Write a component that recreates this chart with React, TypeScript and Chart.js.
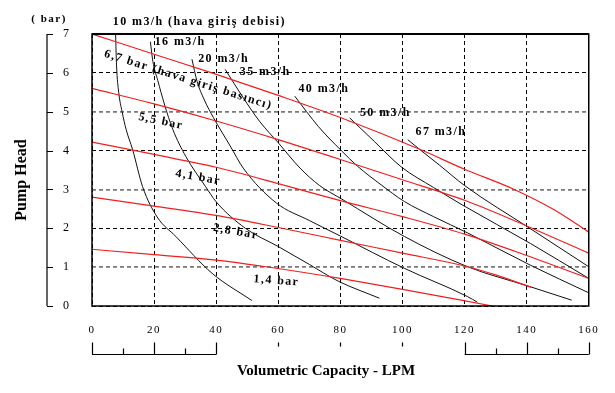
import React, { useEffect, useRef } from "react";
import { Chart, registerables } from "chart.js";

Chart.register(...registerables);

// ---- axis ticks ----
const xTickValues = [0, 20, 40, 60, 80, 100, 120, 140, 160];
const yTickValues = [0, 1, 2, 3, 4, 5, 6, 7];
const rulerLeft = [0, 10, 20, 30, 40];
const rulerMid = [60, 80, 100];
const rulerRight = [120, 130, 140, 150, 160];

// ---- air inlet pressure lines (red) ----
const bar67X = [0, 20, 38.6, 60, 80, 106.5, 120, 136, 149, 160];
const bar67Y = [7.0, 6.48, 6.0, 5.42, 4.85, 4.0, 3.52, 3.0, 2.47, 1.9];
const bar55X = [0, 20, 40, 60, 80, 100, 120, 140, 160];
const bar55Y = [5.6, 5.2, 4.76, 4.28, 3.77, 3.25, 2.72, 2.06, 1.36];
const bar41X = [0, 20, 40, 60, 80, 100, 120, 140, 160];
const bar41Y = [4.22, 3.9, 3.57, 3.15, 2.71, 2.3, 1.85, 1.3, 0.71];
const bar28X = [0, 20, 40, 60, 80, 100, 120, 130, 141.5];
const bar28Y = [2.8, 2.57, 2.33, 2.02, 1.69, 1.36, 1.03, 0.8, 0.48];
const bar14X = [0, 20, 40, 56, 80, 100, 129];
const bar14Y = [1.46, 1.32, 1.18, 1.01, 0.71, 0.43, 0];

// ---- air consumption curves (black) ----
const flow10X = [7.6, 7.9, 8.6, 9.7, 11, 13.1, 16.3, 21, 27, 38.7, 51.5];
const flow10Y = [7.0, 6.2, 5.5, 5.0, 4.54, 4.02, 3.07, 2.29, 1.79, 0.84, 0.14];
const flow16X = [18.8, 19.6, 21.2, 23.3, 26, 30.2, 36.6, 40, 49.4, 60, 70, 79.3, 92.6];
const flow16Y = [6.8, 6.3, 5.8, 5.2, 4.55, 3.85, 3.07, 2.68, 2.0, 1.53, 1.07, 0.64, 0.2];
const flow20X = [32.2, 33.8, 36.2, 39.1, 44.5, 48.7, 59.4, 70, 80, 100.6, 121, 124.1];
const flow20Y = [6.35, 5.79, 5.3, 4.85, 4.12, 3.55, 2.65, 2.2, 1.8, 0.97, 0.24, 0.1];
const flow35X = [42.9, 48.7, 54, 60, 67, 73.3, 80.5, 100.6, 121, 141, 154.5];
const flow35Y = [6.09, 5.36, 4.75, 4.2, 3.55, 3.1, 2.75, 1.79, 1.01, 0.5, 0.15];
const flow40X = [65.3, 72.9, 80.3, 85.5, 93.1, 100.6, 110, 121, 141.2, 160];
const flow40Y = [5.4, 4.62, 4.0, 3.6, 3.12, 2.69, 2.3, 1.88, 1.05, 0.34];
const flow50X = [83, 91, 99.6, 110, 119.3, 141.2, 160];
const flow50Y = [4.84, 4.23, 3.58, 3.05, 2.6, 1.61, 0.71];
const flow67X = [101.7, 106, 112, 120, 141, 160];
const flow67Y = [4.28, 4.0, 3.62, 3.1, 2.0, 1.01];

// ---- texts ----
const pressureNames = ["6,7 bar (hava giriş basıncı)", "5,5 bar", "4,1 bar", "2,8 bar", "1,4 bar"];
const flowNames = ["10 m3/h (hava giriş debisi)", "16 m3/h", "20 m3/h", "35 m3/h", "40 m3/h", "50 m3/h", "67 m3/h"];
const xTitle = "Volumetric Capacity - LPM";
const yTitle = "Pump Head";
const yUnit = "( bar)";

const RED = "#f01f1f";
const BLACK = "#111111";
const SERIF = '"Liberation Serif", "DejaVu Serif", serif';

// label placement (data coordinates, angle in degrees)
const placements = [
  { text: flowNames[0], x: 6.7, y: 7.31, angle: 0, align: "left" },
  { text: flowNames[1], x: 20.2, y: 6.8, angle: 0, align: "left" },
  { text: flowNames[2], x: 34.2, y: 6.37, angle: 0, align: "left" },
  { text: flowNames[3], x: 47.6, y: 6.03, angle: 0, align: "left" },
  { text: flowNames[4], x: 66.5, y: 5.58, angle: 0, align: "left" },
  { text: flowNames[5], x: 86.3, y: 4.97, angle: 0, align: "left" },
  { text: flowNames[6], x: 104.2, y: 4.49, angle: 0, align: "left" },
  { text: pressureNames[0], x: 31, y: 5.82, angle: 17.5, align: "center" },
  { text: pressureNames[1], x: 22.2, y: 4.75, angle: 12, align: "center" },
  { text: pressureNames[2], x: 34.2, y: 3.31, angle: 10, align: "center" },
  { text: pressureNames[3], x: 46.3, y: 1.91, angle: 10, align: "center" },
  { text: pressureNames[4], x: 59.4, y: 0.65, angle: 4, align: "center" },
];

function series(xs: number[], ys: number[], color: string, width: number) {
  return {
    data: xs.map((x, i) => ({ x, y: ys[i] })),
    borderColor: color,
    backgroundColor: color,
    borderWidth: width,
    pointRadius: 0,
    showLine: true,
    fill: false,
    cubicInterpolationMode: "monotone" as const,
  };
}

const overlay = {
  id: "overlay",
  afterDatasetsDraw(chart: any) {
    chart.ctx.letterSpacing = "1.5px";
  },
  afterDraw(chart: any) {
    const { ctx, chartArea: a } = chart;
    const xs = chart.scales.x;
    const ys = chart.scales.y;
    ctx.save();
    ctx.letterSpacing = "0px";
    ctx.setLineDash([]);
    ctx.strokeStyle = "#000";

    // frame
    ctx.lineWidth = 1.5;
    ctx.strokeRect(a.left, a.top, a.right - a.left, a.bottom - a.top);
    ctx.lineWidth = 2;
    ctx.beginPath();
    ctx.moveTo(a.left, a.top);
    ctx.lineTo(a.right, a.top);
    ctx.stroke();

    // detached y axis line with ticks
    const ax = a.left - 45;
    ctx.lineWidth = 1.2;
    ctx.beginPath();
    ctx.moveTo(ax, ys.getPixelForValue(7));
    ctx.lineTo(ax, ys.getPixelForValue(0));
    yTickValues.forEach((v) => {
      const py = Math.round(ys.getPixelForValue(v)) + 0.5;
      ctx.moveTo(ax, py);
      ctx.lineTo(ax + 6, py);
    });
    ctx.stroke();

    // bottom ruler
    const base = a.bottom + 48.5;
    ctx.beginPath();
    [rulerLeft, rulerRight].forEach((arr) => {
      ctx.moveTo(xs.getPixelForValue(arr[0]), base);
      ctx.lineTo(xs.getPixelForValue(arr[arr.length - 1]), base);
      arr.forEach((v, i) => {
        const px = Math.round(xs.getPixelForValue(v)) + 0.5;
        ctx.moveTo(px, base);
        ctx.lineTo(px, base - (i % 2 === 0 ? 12 : 6));
      });
    });
    rulerMid.forEach((v) => {
      const px = Math.round(xs.getPixelForValue(v)) + 0.5;
      ctx.moveTo(px, base - 12);
      ctx.lineTo(px, base - 8);
    });
    ctx.stroke();

    // curve labels
    ctx.fillStyle = "#000";
    ctx.textBaseline = "middle";
    ctx.font = `bold 12px ${SERIF}`;
    ctx.letterSpacing = "1.4px";
    placements.forEach((p) => {
      ctx.save();
      ctx.translate(xs.getPixelForValue(p.x), ys.getPixelForValue(p.y));
      ctx.rotate((p.angle * Math.PI) / 180);
      ctx.textAlign = p.align;
      ctx.fillText(p.text, 0, 0);
      ctx.restore();
    });

    // unit label
    ctx.letterSpacing = "1.5px";
    ctx.textAlign = "center";
    ctx.font = `bold 11px ${SERIF}`;
    ctx.fillText(yUnit, ax + 2, a.top - 15);

    // axis titles
    ctx.letterSpacing = "0px";
    ctx.font = `bold 15px ${SERIF}`;
    ctx.fillText(xTitle, 326, a.bottom + 65);
    ctx.save();
    ctx.translate(22, 180);
    ctx.rotate(-Math.PI / 2);
    ctx.font = `bold 16px ${SERIF}`;
    ctx.fillText(yTitle, 0, 0);
    ctx.restore();

    ctx.restore();
  },
};

export default function App() {
  const ref = useRef<HTMLCanvasElement | null>(null);
  useEffect(() => {
    if (!ref.current) return;
    const datasets = [
      series(bar67X, bar67Y, RED, 1.2),
      series(bar55X, bar55Y, RED, 1.2),
      series(bar41X, bar41Y, RED, 1.2),
      series(bar28X, bar28Y, RED, 1.2),
      series(bar14X, bar14Y, RED, 1.2),
      series(flow10X, flow10Y, BLACK, 1),
      series(flow16X, flow16Y, BLACK, 1),
      series(flow20X, flow20Y, BLACK, 1),
      series(flow35X, flow35Y, BLACK, 1),
      series(flow40X, flow40Y, BLACK, 1),
      series(flow50X, flow50Y, BLACK, 1),
      series(flow67X, flow67Y, BLACK, 1),
    ];
    const chart = new Chart(ref.current, {
      type: "scatter",
      data: { datasets },
      options: {
        animation: false,
        responsive: false,
        devicePixelRatio: 1,
        layout: { padding: { top: 34, right: 23, left: 0, bottom: 0 } },
        plugins: { legend: { display: false }, tooltip: { enabled: false } },
        scales: {
          x: {
            type: "linear",
            min: 0,
            max: 160,
            afterBuildTicks: (s: any) => {
              s.ticks = xTickValues.map((v) => ({ value: v }));
            },
            afterFit: (s: any) => {
              s.height = 87;
            },
            ticks: {
              z: 1,
              padding: 18,
              color: "#000",
              font: { family: SERIF, size: 11 },
              maxRotation: 0,
            },
            grid: {
              drawTicks: false,
              color: "#000",
              lineWidth: 1,
            },
            border: { display: false, dash: [4, 3] },
          },
          y: {
            type: "linear",
            min: 0,
            max: 7,
            afterBuildTicks: (s: any) => {
              s.ticks = yTickValues.map((v) => ({ value: v }));
            },
            afterFit: (s: any) => {
              s.width = 92;
            },
            ticks: {
              padding: 23,
              color: "#000",
              font: { family: SERIF, size: 12 },
            },
            grid: {
              drawTicks: false,
              color: (c: any) => (c.tick && c.tick.value % 2 === 1 ? "#7a7a7a" : "#000"),
              lineWidth: (c: any) => (c.tick && c.tick.value % 2 === 1 ? 1.8 : 1),
            },
            border: { display: false, dash: [4, 3] },
          },
        },
      },
      plugins: [overlay],
    } as any);
    return () => chart.destroy();
  }, []);
  return (
    <div style={{ position: "absolute", left: 0, top: 0, width: 615, height: 393, background: "#fff" }}>
      <canvas ref={ref} width={615} height={393} />
    </div>
  );
}
